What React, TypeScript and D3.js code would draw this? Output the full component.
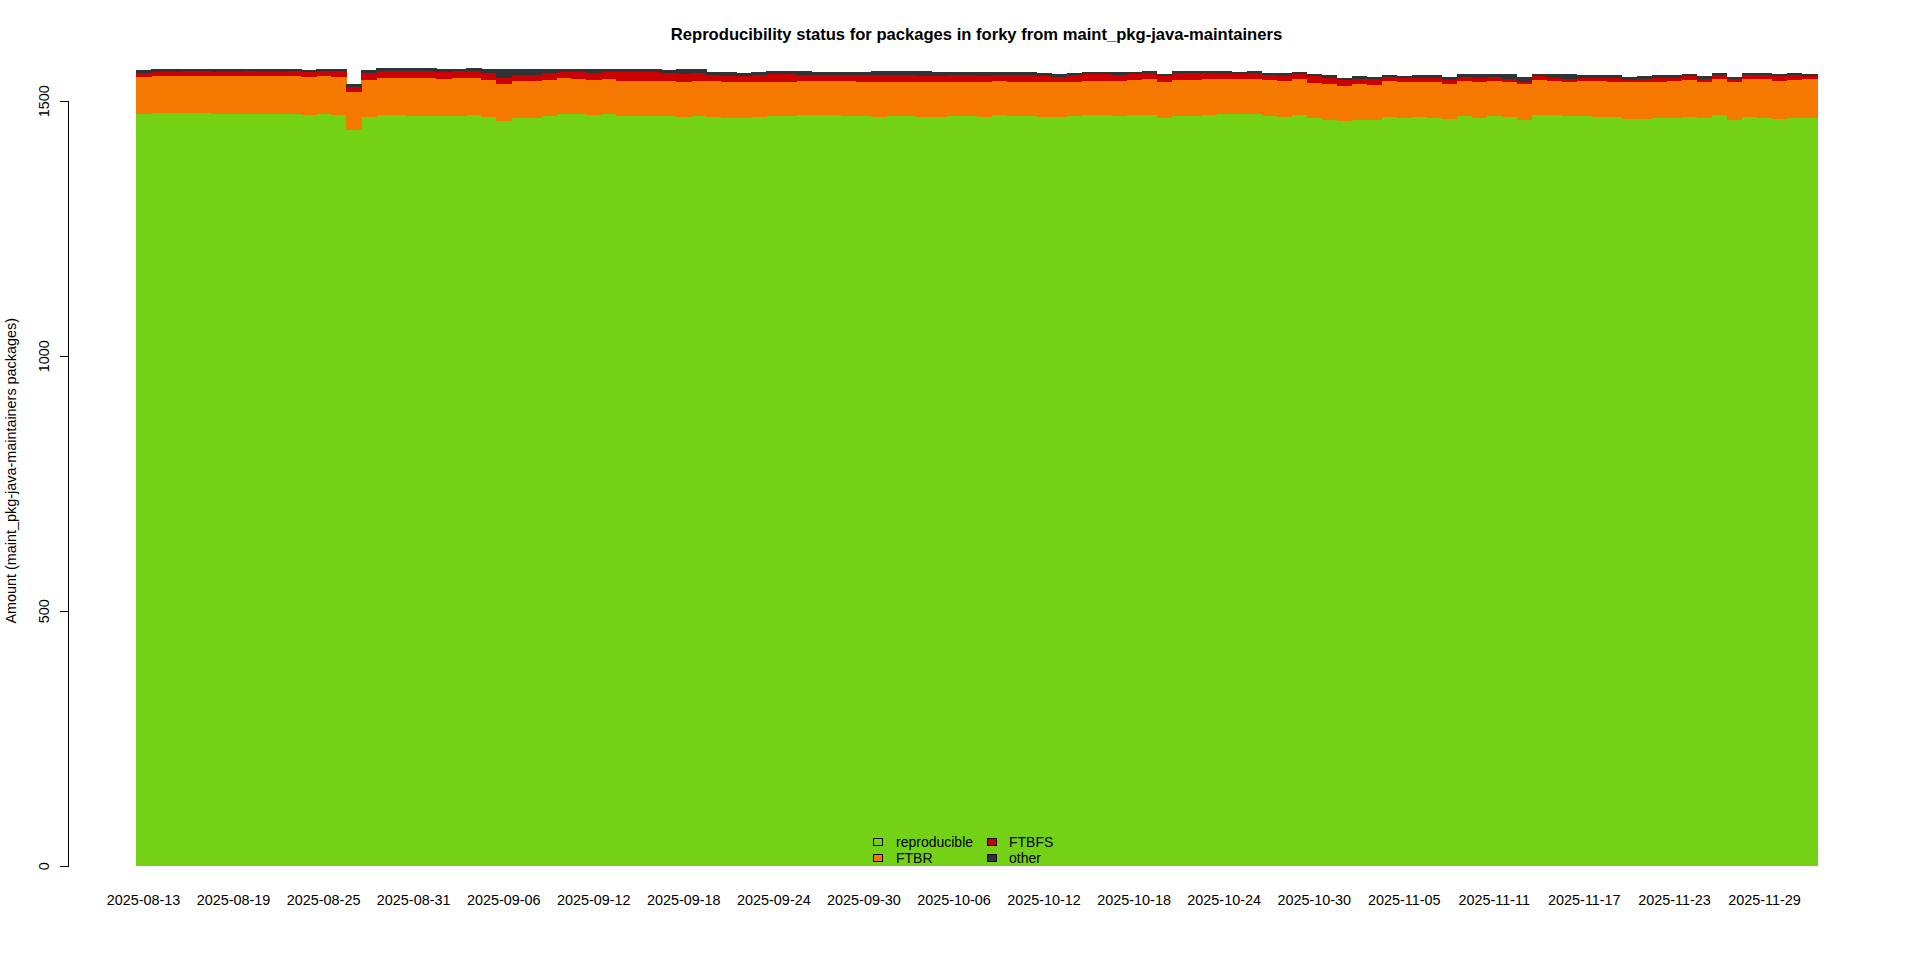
import React from "react";
import * as d3 from "d3";

// Daily package counts for maint_pkg-java-maintainers in forky
const FIRST_DAY = "2025-08-13";
const LAST_DAY = "2025-12-02";

const TICK_LABELS = [
  "2025-08-13", "2025-08-19", "2025-08-25", "2025-08-31", "2025-09-06",
  "2025-09-12", "2025-09-18", "2025-09-24", "2025-09-30", "2025-10-06",
  "2025-10-12", "2025-10-18", "2025-10-24", "2025-10-30", "2025-11-05",
  "2025-11-11", "2025-11-17", "2025-11-23", "2025-11-29",
];
const Y_TICKS = [0, 500, 1000, 1500];

const reproducible = [
  1475, 1477, 1477, 1477, 1477, 1475, 1475, 1475, 1475, 1475,
  1475, 1474, 1475, 1474, 1444, 1470, 1473, 1473, 1472, 1472,
  1472, 1472, 1474, 1470, 1462, 1468, 1468, 1471, 1475, 1475,
  1474, 1475, 1472, 1472, 1472, 1472, 1470, 1471, 1470, 1468,
  1468, 1470, 1471, 1471, 1473, 1473, 1473, 1471, 1471, 1470,
  1471, 1471, 1470, 1470, 1471, 1471, 1470, 1473, 1471, 1471,
  1470, 1470, 1471, 1473, 1473, 1471, 1473, 1473, 1468, 1471,
  1471, 1473, 1475, 1475, 1475, 1471, 1470, 1473, 1468, 1464,
  1462, 1464, 1464, 1469, 1468, 1469, 1468, 1466, 1471, 1467,
  1471, 1469, 1463, 1473, 1473, 1471, 1471, 1469, 1469, 1465,
  1465, 1467, 1467, 1469, 1467, 1473, 1463, 1469, 1467, 1465,
  1467, 1467,
];
const ftbr = [
  73, 73, 73, 73, 73, 75, 75, 75, 75, 75,
  75, 74, 75, 74, 75, 72, 73, 73, 74, 74,
  72, 74, 72, 72, 72, 71, 71, 71, 71, 69,
  68, 69, 68, 68, 68, 68, 68, 69, 70, 69,
  69, 67, 67, 67, 67, 67, 67, 69, 67, 68,
  67, 67, 67, 67, 67, 67, 67, 67, 67, 67,
  67, 67, 67, 67, 67, 69, 69, 71, 70, 71,
  71, 71, 69, 69, 69, 71, 70, 71, 68, 70,
  68, 70, 68, 71, 70, 69, 70, 68, 69, 71,
  69, 69, 70, 69, 67, 67, 69, 71, 69, 72,
  72, 71, 73, 73, 71, 71, 74, 75, 77, 75,
  75, 77,
];
const ftbfs = [
  8, 8, 8, 10, 10, 8, 8, 10, 8, 8,
  10, 9, 10, 12, 10, 14, 14, 14, 14, 14,
  14, 14, 14, 14, 11, 13, 13, 14, 11, 13,
  14, 13, 17, 17, 17, 16, 16, 16, 12, 13,
  13, 15, 16, 16, 12, 12, 12, 12, 14, 14,
  14, 14, 13, 13, 14, 14, 13, 12, 14, 14,
  13, 11, 14, 14, 14, 12, 12, 12, 12, 14,
  14, 12, 12, 10, 12, 10, 10, 10, 14, 12,
  12, 10, 12, 8, 8, 8, 8, 8, 8, 8,
  8, 6, 5, 8, 6, 6, 6, 6, 8, 5,
  7, 8, 6, 8, 6, 8, 7, 8, 8, 10,
  10, 6,
];
const other = [
  5, 5, 5, 3, 3, 5, 5, 3, 5, 5,
  3, 4, 3, 3, 5, 5, 5, 5, 5, 5,
  5, 3, 5, 7, 18, 11, 11, 7, 6, 6,
  7, 6, 6, 6, 6, 5, 9, 7, 6, 8,
  6, 6, 5, 5, 7, 6, 6, 6, 6, 7,
  7, 7, 9, 8, 6, 6, 8, 6, 6, 6,
  6, 6, 4, 4, 4, 6, 4, 3, 4, 3,
  3, 3, 3, 4, 3, 4, 6, 4, 4, 6,
  4, 6, 4, 4, 4, 6, 6, 6, 6, 8,
  6, 10, 10, 4, 8, 10, 6, 6, 6, 6,
  6, 6, 6, 4, 6, 4, 4, 4, 4, 4,
  4, 4,
];

const SERIES = ["reproducible", "FTBR", "FTBFS", "other"];
const COLORS: Record<string, string> = {
  reproducible: "#73d216",
  FTBR: "#f57900",
  FTBFS: "#cc0000",
  other: "#2e3436",
};

const FONT = "'Liberation Sans', Arial, Helvetica, sans-serif";
const AXIS_FONT = 14.4;

export default function App() {
  const W = 1920;
  const H = 960;
  const left = 136;
  const right = 1817;
  const parse = d3.utcParse("%Y-%m-%d");
  const fmt = d3.utcFormat("%Y-%m-%d");
  const days = d3.utcDay
    .range(parse(FIRST_DAY)!, d3.utcDay.offset(parse(LAST_DAY)!, 1))
    .map(fmt);

  const rows = days.map((day, i) => ({
    day,
    reproducible: reproducible[i],
    FTBR: ftbr[i],
    FTBFS: ftbfs[i],
    other: other[i],
  }));
  const stacked = d3.stack<any>().keys(SERIES)(rows);

  const x = d3.scaleBand<string>().domain(days).range([left, right]).padding(0);
  const y = d3.scaleLinear().domain([0, 1500]).range([866.3, 101.3]);
  const axisX = 68.5;
  const bw = x.bandwidth();

  const legendCols = [
    { boxX: 873, textX: 896, keys: ["reproducible", "FTBR"] },
    { boxX: 987, textX: 1009, keys: ["FTBFS", "other"] },
  ];
  const legendRowsY = [842, 858];

  return (
    <svg
      width={W}
      height={H}
      viewBox={`0 0 ${W} ${H}`}
      style={{ position: "absolute", left: 0, top: 0, background: "#fff" }}
      fontFamily={FONT}
    >
      <rect x={0} y={0} width={W} height={H} fill="#fff" />
      <g shapeRendering="crispEdges">
        {stacked.map((layer) => (
          <g key={layer.key} fill={COLORS[layer.key]}>
            {layer.map((d: any) => (
              <rect
                key={d.data.day}
                x={x(d.data.day)!}
                width={bw + 0.5}
                y={y(d[1])}
                height={y(d[0]) - y(d[1])}
              />
            ))}
          </g>
        ))}
      </g>

      <text
        x={(left + right) / 2}
        y={40}
        textAnchor="middle"
        fontWeight="bold"
        fontSize={16.6}
        fill="#000"
      >
        Reproducibility status for packages in forky from maint_pkg-java-maintainers
      </text>

      {/* y axis */}
      <g stroke="#000" strokeWidth={1} shapeRendering="crispEdges">
        <line x1={axisX} x2={axisX} y1={y(0)} y2={y(1500)} />
        {Y_TICKS.map((t) => (
          <line key={t} x1={axisX - 8.5} x2={axisX} y1={y(t)} y2={y(t)} />
        ))}
      </g>
      {Y_TICKS.map((t) => (
        <text
          key={t}
          transform={`translate(44,${y(t)}) rotate(-90)`}
          textAnchor="middle"
          dominantBaseline="central"
          fontSize={AXIS_FONT}
          fill="#000"
        >
          {t}
        </text>
      ))}
      <text
        transform={`translate(10.5,${(y(0) + y(1500)) / 2 - 13}) rotate(-90)`}
        textAnchor="middle"
        dominantBaseline="central"
        fontSize={AXIS_FONT}
        fill="#000"
      >
        Amount (maint_pkg-java-maintainers packages)
      </text>

      {/* x labels */}
      {TICK_LABELS.map((lab) => (
        <text
          key={lab}
          x={x(lab)! + bw / 2}
          y={905}
          textAnchor="middle"
          fontSize={AXIS_FONT}
          fill="#000"
        >
          {lab}
        </text>
      ))}

      {/* legend */}
      {legendCols.map((col) =>
        col.keys.map((k, r) => (
          <g key={k}>
            <rect
              x={col.boxX + 0.5}
              y={legendRowsY[r] - 3.5}
              width={9}
              height={7}
              fill={COLORS[k]}
              stroke="#000"
              strokeWidth={1}
              shapeRendering="crispEdges"
            />
            <text
              x={col.textX}
              y={legendRowsY[r]}
              dominantBaseline="central"
              fontSize={14}
              fill="#000"
            >
              {k}
            </text>
          </g>
        ))
      )}
    </svg>
  );
}
